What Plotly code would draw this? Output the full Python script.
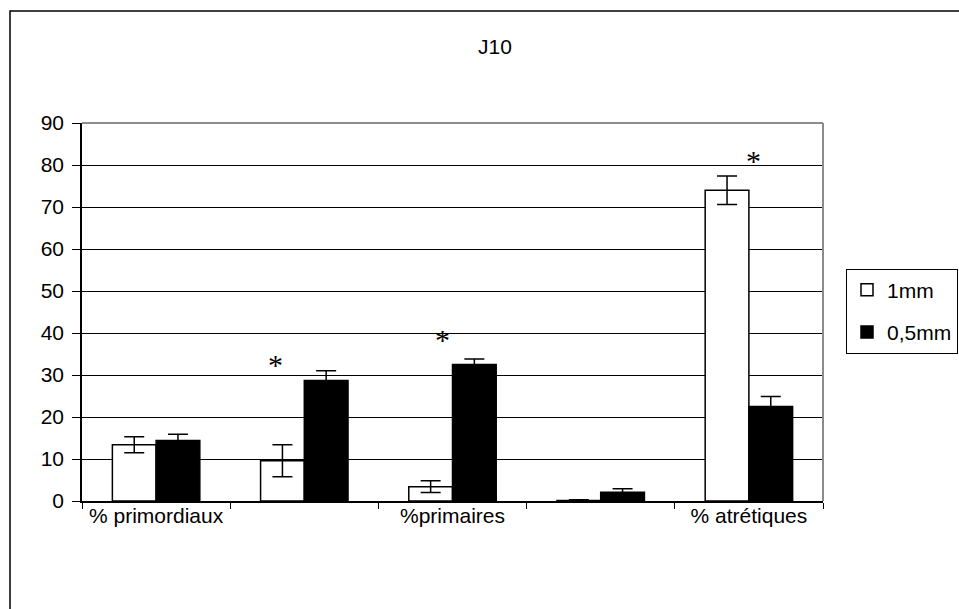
import plotly.graph_objects as go

categories = ["% primordiaux", "% intermédiaires", "%primaires", "% secondaires", "% atrétiques"]
tick_labels = ["% primordiaux", "", "%primaires", "", "% atrétiques"]
series_names = ["1mm", "0,5mm"]
values_1mm = [13.4, 9.6, 3.4, 0.1, 74.0]
errors_1mm = [1.9, 3.8, 1.4, 0.2, 3.4]
values_05mm = [14.4, 28.7, 32.5, 2.1, 22.5]
errors_05mm = [1.5, 2.3, 1.3, 0.8, 2.4]
star_categories = ["% intermédiaires", "%primaires", "% atrétiques"]
star_y = [32.6, 38.4, 81.0]
star_shift = [-29, -10, 5]
y_ticks = [0, 10, 20, 30, 40, 50, 60, 70, 80, 90]

FONT = "Liberation Sans, Arial, sans-serif"
FS = 21

fig = go.Figure()
fig.add_trace(go.Bar(
    x=categories, y=values_1mm, name=series_names[0],
    marker=dict(color="white", line=dict(color="black", width=1.5)),
    error_y=dict(type="data", array=errors_1mm, color="black", thickness=1.5, width=10),
    legendgroup="a",
))
fig.add_trace(go.Bar(
    x=categories, y=values_05mm, name=series_names[1],
    marker=dict(color="black", line=dict(color="black", width=1.5)),
    error_y=dict(type="data", array=errors_05mm, color="black", thickness=1.5, width=10),
    legendgroup="b",
))

for c, yv, sh in zip(star_categories, star_y, star_shift):
    fig.add_annotation(x=c, y=yv, xref="x", yref="y", text="*", showarrow=False,
                       xshift=sh, font=dict(family="Liberation Serif, serif", size=30, color="black"))

W, H = 959, 609
ml, mr, mt, mb = 82, 136, 123, 108
pw, ph = W - ml - mr, H - mt - mb

def px_x(v):
    return (v - ml) / pw

def px_y(v):
    return (H - mb - v) / ph

shapes = [
    dict(type="line", xref="paper", yref="paper", x0=0, x1=1, y0=1, y1=1,
         line=dict(color="#8c8c8c", width=2)),
    dict(type="line", xref="paper", yref="paper", x0=1, x1=1, y0=0, y1=1,
         line=dict(color="#8c8c8c", width=2)),
    dict(type="rect", xref="paper", yref="paper", x0=px_x(10), x1=px_x(1000),
         y0=px_y(650), y1=px_y(11), line=dict(color="black", width=1.5),
         fillcolor="rgba(0,0,0,0)", layer="above"),
]

fig.update_layout(
    width=W, height=H,
    margin=dict(l=ml, r=mr, t=mt, b=mb, autoexpand=False),
    paper_bgcolor="white", plot_bgcolor="white",
    font=dict(family=FONT, size=FS, color="black"),
    title=dict(text="J10", x=495 / W, xref="container", xanchor="center",
               y=1 - 47 / H, yref="container", yanchor="middle",
               font=dict(family=FONT, size=FS, color="black")),
    barmode="group", bargap=0.41, bargroupgap=0.0,
    showlegend=True,
    legend=dict(x=px_x(846), y=px_y(311), xanchor="left", yanchor="middle",
                bordercolor="black", borderwidth=1, bgcolor="white",
                font=dict(family=FONT, size=FS, color="black"),
                tracegroupgap=12, itemwidth=30),
    shapes=shapes,
    xaxis=dict(type="category", categoryorder="array", categoryarray=categories,
               tickvals=categories, ticktext=tick_labels,
               tickson="boundaries", ticks="outside", ticklen=6, tickcolor="black",
               ticklabelstandoff=-5,
               showline=True, linecolor="black", linewidth=1.5,
               showgrid=False, tickfont=dict(family=FONT, size=FS, color="black")),
    yaxis=dict(range=[0, 90], tickvals=y_ticks, ticks="outside", ticklen=8,
               ticklabelstandoff=4,
               tickcolor="black", showline=True, linecolor="black", linewidth=1.5,
               showgrid=True, gridcolor="black", gridwidth=1, zeroline=False,
               tickfont=dict(family=FONT, size=FS, color="black")),
)

fig.write_html("out.html", config={"displayModeBar": False},
               post_script="document.body.style.margin='0';document.body.style.overflow='hidden';")
